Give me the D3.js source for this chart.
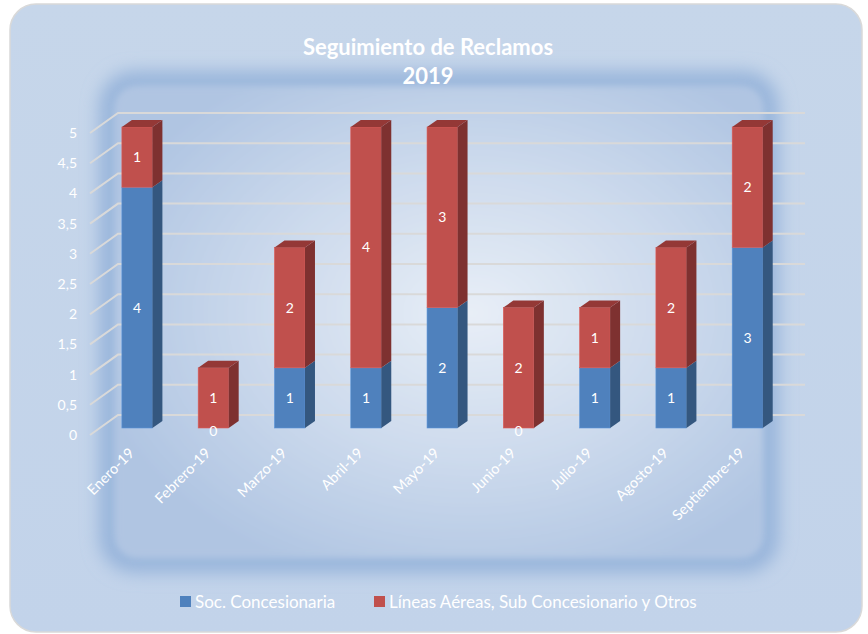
<!DOCTYPE html>
<html lang="es">
<head>
  <meta charset="UTF-8">
  <title>Seguimiento de Reclamos 2019</title>
  <style>
    body { margin: 0; background: #fff; }
    text { font-family: Lato, "Open Sans", sans-serif; fill: #fff; }
  </style>
</head>
<body>

  <svg id="svg" width="868" height="634"></svg>

  <script src="https://cdn.jsdelivr.net/npm/d3@7"></script>
  <script>
    // data
    const months = ['Enero-19', 'Febrero-19', 'Marzo-19', 'Abril-19', 'Mayo-19',
                    'Junio-19', 'Julio-19', 'Agosto-19', 'Septiembre-19'];
    const socValues = [4, 0, 1, 1, 2, 0, 1, 1, 3];
    const otrosValues = [1, 1, 2, 4, 3, 2, 1, 2, 2];
    const seriesNames = ['Soc. Concesionaria', 'Líneas Aéreas, Sub Concesionario y Otros'];
    const yTicks = [0, 0.5, 1, 1.5, 2, 2.5, 3, 3.5, 4, 4.5, 5];

    const svg = d3.select('#svg');
    const defs = svg.append('defs');

    // background look
    const rg = defs.append('radialGradient').attr('id', 'inner')
      .attr('cx', '55%').attr('cy', '48%').attr('r', '60%');
    rg.append('stop').attr('offset', '0%').attr('stop-color', '#e8eef7');
    rg.append('stop').attr('offset', '55%').attr('stop-color', '#cbd9ec');
    rg.append('stop').attr('offset', '100%').attr('stop-color', '#b0c5e2');

    const og = defs.append('linearGradient').attr('id', 'outer')
      .attr('x1', 0).attr('y1', 0).attr('x2', 0).attr('y2', 1);
    og.append('stop').attr('offset', '0%').attr('stop-color', '#c6d6ea');
    og.append('stop').attr('offset', '100%').attr('stop-color', '#c2d3ea');

    defs.append('filter').attr('id', 'blur').attr('x', '-20%').attr('y', '-20%')
      .attr('width', '140%').attr('height', '140%')
      .append('feGaussianBlur').attr('stdDeviation', 9);
    defs.append('filter').attr('id', 'blur2').attr('x', '-20%').attr('y', '-20%')
      .attr('width', '140%').attr('height', '140%')
      .append('feGaussianBlur').attr('stdDeviation', 3);

    svg.append('rect')
      .attr('x', 10).attr('y', 4).attr('width', 852).attr('height', 628)
      .attr('rx', 26).attr('fill', 'url(#outer)')
      .attr('stroke', '#d9d9d9').attr('stroke-width', 1.5);

    svg.append('rect')
      .attr('x', 110).attr('y', 82).attr('width', 658).attr('height', 480)
      .attr('rx', 24).attr('fill', 'none')
      .attr('stroke', '#93b1d9').attr('stroke-width', 20)
      .attr('filter', 'url(#blur)');

    svg.append('rect')
      .attr('x', 116).attr('y', 87).attr('width', 646).attr('height', 470)
      .attr('rx', 20).attr('fill', 'url(#inner)')
      .attr('filter', 'url(#blur2)');

    // title
    svg.append('text')
      .attr('x', 428).attr('y', 55)
      .attr('text-anchor', 'middle')
      .style('font-size', '22px').style('font-weight', 'bold')
      .text('Seguimiento de Reclamos');
    svg.append('text')
      .attr('x', 428).attr('y', 84)
      .attr('text-anchor', 'middle')
      .style('font-size', '22px').style('font-weight', 'bold')
      .text('2019');

    // scales
    const x = d3.scaleBand().domain(months)
      .range([99, 785.6]).paddingInner(0.6).paddingOuter(0.3);
    const y = d3.scaleLinear().domain([0, 5]).range([428, 127]);
    const yBack = d3.scaleLinear().domain([0, 5]).range([415, 113]);
    const fmt = v => String(v).replace('.', ',');

    // gridlines on floor-side and back wall
    const grid = svg.append('g');
    yTicks.forEach(v => {
      grid.append('path')
        .attr('d', `M90,${yBack(v) + 20}L118,${yBack(v)}L805,${yBack(v)}`)
        .attr('fill', 'none').attr('stroke', '#d9d9d9').attr('stroke-width', 2);
      grid.append('text')
        .attr('x', 77).attr('y', yBack(v) + 20)
        .attr('dy', '0.35em').attr('text-anchor', 'end')
        .style('font-size', '14px')
        .text(fmt(v));
    });

    // stacked 3d bars
    const table = months.map((m, i) => ({ month: m, soc: socValues[i], otros: otrosValues[i] }));
    const stack = d3.stack().keys(['soc', 'otros'])(table);
    const frontCol = { soc: '#4f81bd', otros: '#c0504d' };
    const sideCol = { soc: '#34577f', otros: '#7e3130' };
    const topCol = { soc: '#3e6696', otros: '#943836' };
    const dx = 10, dy = -7, w = x.bandwidth();

    const bars = svg.append('g');
    stack.forEach((layer, li) => {
      layer.forEach((d, i) => {
        if (d[1] - d[0] <= 0) return;
        const x0 = x(d.data.month), y0 = y(d[0]), y1 = y(d[1]);
        const g = bars.append('g');
        g.append('rect')
          .attr('x', x0).attr('y', y1).attr('width', w).attr('height', y0 - y1)
          .attr('fill', frontCol[layer.key])
          .attr('stroke', d3.color(frontCol[layer.key]).brighter(0.4)).attr('stroke-width', 0.6);
        g.append('path')
          .attr('d', `M${x0 + w},${y1}L${x0 + w + dx},${y1 + dy}L${x0 + w + dx},${y0 + dy}L${x0 + w},${y0}Z`)
          .attr('fill', sideCol[layer.key]);
        const isTop = li === stack.length - 1 ||
          stack.slice(li + 1).every(l => l[i][1] - l[i][0] <= 0);
        if (isTop) {
          g.append('path')
            .attr('d', `M${x0},${y1}L${x0 + dx},${y1 + dy}L${x0 + w + dx},${y1 + dy}L${x0 + w},${y1}Z`)
            .attr('fill', topCol[layer.key]);
        }
      });
    });

    // value labels
    stack.forEach(layer => {
      layer.forEach(d => {
        svg.append('text')
          .attr('x', x(d.data.month) + w / 2)
          .attr('y', (y(d[0]) + y(d[1])) / 2 + (d[1] - d[0] === 0 ? 3 : 0))
          .attr('dy', '0.35em').attr('text-anchor', 'middle')
          .style('font-size', '14px')
          .text(d[1] - d[0]);
      });
    });

    // category labels
    months.forEach(m => {
      svg.append('text')
        .attr('transform', `translate(${x(m) + w / 2 - 2},${454}) rotate(-45)`)
        .attr('text-anchor', 'end')
        .style('font-size', '14.5px')
        .text(m);
    });

    // legend
    const legendX = [180, 374];
    seriesNames.forEach((name, i) => {
      const key = i === 0 ? 'soc' : 'otros';
      svg.append('rect')
        .attr('x', legendX[i]).attr('y', 596).attr('width', 11).attr('height', 11)
        .attr('fill', frontCol[key]);
      svg.append('text')
        .attr('x', legendX[i] + 15).attr('y', 602)
        .attr('dy', '0.35em')
        .style('font-size', '17px')
        .text(name);
    });
  </script>
</body>
</html>
